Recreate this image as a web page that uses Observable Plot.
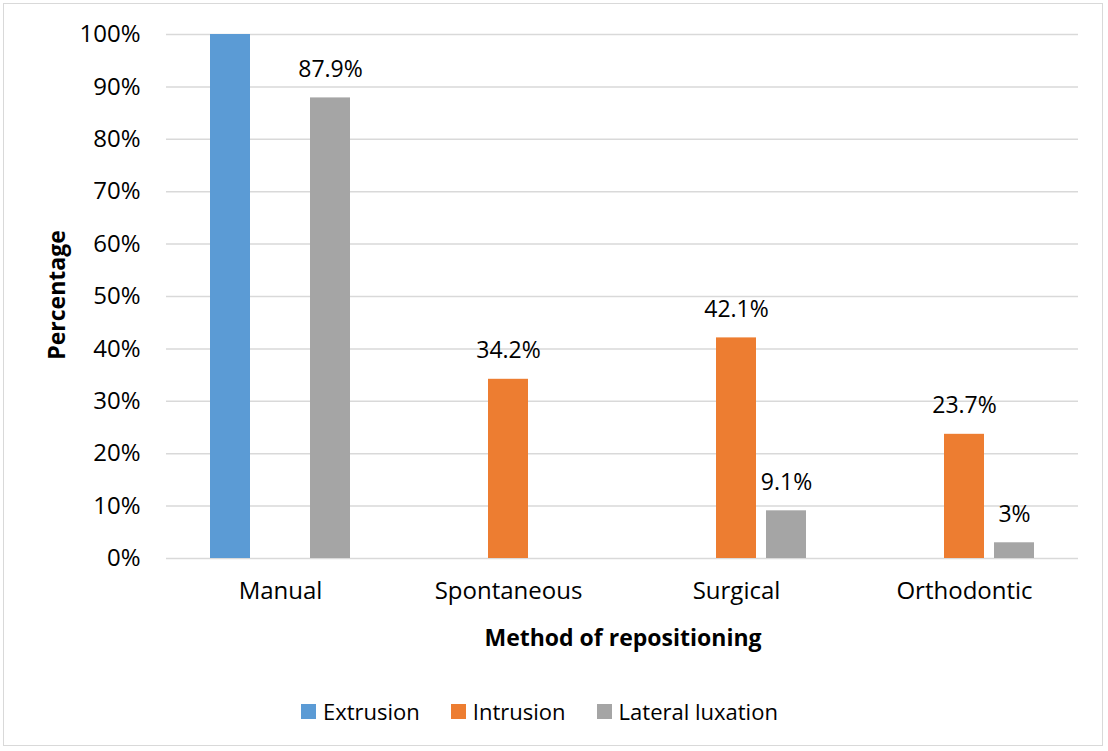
<!DOCTYPE html>
<html>
<head>
<meta charset="utf-8">
<script src="https://cdn.jsdelivr.net/npm/d3@7"></script>
<script src="https://cdn.jsdelivr.net/npm/@observablehq/plot@0.6"></script>
<style>
  html, body { margin: 0; padding: 0; background: #fff; }
  #wrap { position: relative; width: 1108px; height: 751px; font-family: "Open Sans", sans-serif; color: #000; }
  #frame { position: absolute; left: 3px; top: 3px; width: 1100px; height: 743px; border: 1px solid #d9d9d9; box-sizing: border-box; }
  #chart { position: absolute; left: 0; top: 0; }
  .ylab { position: absolute; left: 56px; top: 295px; transform: translate(-50%, -50%) rotate(-90deg); font-weight: bold; font-size: 23px; white-space: nowrap; }
  .xlab { position: absolute; left: 623px; top: 637px; transform: translate(-50%, -50%); font-weight: bold; font-size: 23px; white-space: nowrap; }
  #legend { position: absolute; left: 301px; top: 711px; transform: translateY(-50%); display: flex; gap: 31px; font-size: 22px; }
  .item { display: flex; align-items: center; gap: 7px; }
  .sw { width: 15px; height: 15px; display: inline-block; }
</style>
</head>
<body>
<div id="wrap">
  <div id="frame"></div>
  <div id="chart"></div>
  <div class="ylab">Percentage</div>
  <div class="xlab">Method of repositioning</div>
  <div id="legend"></div>
</div>
<script>
const categories = ["Manual", "Spontaneous", "Surgical", "Orthodontic"];
const seriesNames = ["Extrusion", "Intrusion", "Lateral luxation"];
const colors = ["#5B9BD5", "#ED7D31", "#A5A5A5"];
const extrusion = [100, null, null, null];
const intrusion = [null, 34.2, 42.1, 23.7];
const lateralLuxation = [87.9, null, 9.1, 3];
const yTicks = [0, 10, 20, 30, 40, 50, 60, 70, 80, 90, 100];

const seriesValues = [extrusion, intrusion, lateralLuxation];
const rows = [];
categories.forEach((c, i) => {
  seriesNames.forEach((s, j) => {
    const v = seriesValues[j][i];
    if (v != null) rows.push({category: c, series: s, value: v});
  });
});
const labelRows = rows.filter(d => d.value < 100);

const fontFam = "'Open Sans', sans-serif";
const chart = Plot.plot({
  width: 1108,
  height: 600,
  marginTop: 34,
  marginBottom: 42,
  marginLeft: 166,
  marginRight: 30,
  style: {fontFamily: fontFam, fontSize: "24px", color: "#000", background: "transparent", overflow: "visible"},
  fx: {domain: categories, padding: 0, label: null, tickSize: 0, tickPadding: 23},
  x: {domain: seriesNames, paddingInner: 0.2, paddingOuter: 0.84, axis: null},
  y: {domain: [0, 100], ticks: yTicks, tickFormat: d => d + "%", tickSize: 0, tickPadding: 26, label: null},
  color: {domain: seriesNames, range: colors},
  marks: [
    Plot.ruleY(yTicks, {stroke: "#d9d9d9", strokeWidth: 1.5}),
    Plot.barY(rows, {fx: "category", x: "series", y: "value", fill: "series"}),
    Plot.text(labelRows, {fx: "category", x: "series", y: "value", text: d => d.value + "%", lineAnchor: "bottom", dy: -21, fill: "#000", fontSize: 23})
  ]
});
document.getElementById("chart").appendChild(chart);

const legend = document.getElementById("legend");
seriesNames.forEach((s, i) => {
  const it = document.createElement("div");
  it.className = "item";
  const sw = document.createElement("span");
  sw.className = "sw";
  sw.style.background = colors[i];
  const t = document.createElement("span");
  t.textContent = s;
  it.appendChild(sw);
  it.appendChild(t);
  legend.appendChild(it);
});
</script>
</body>
</html>
